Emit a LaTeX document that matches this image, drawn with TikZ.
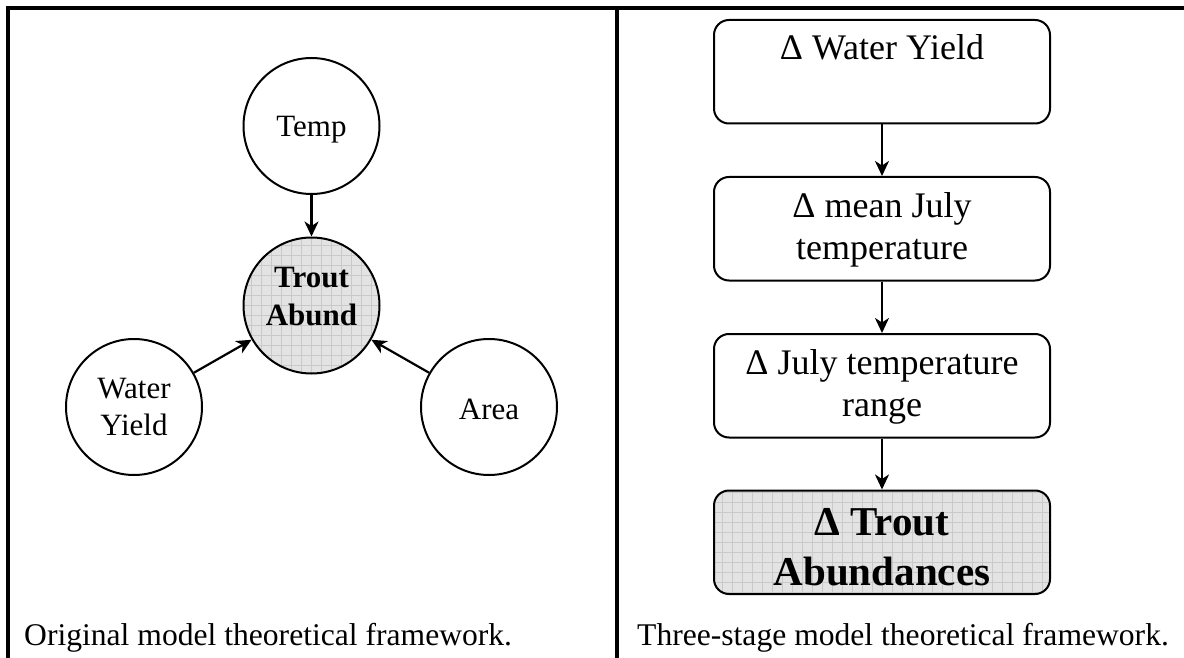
\documentclass[tikz,border=0pt]{standalone}
\usepackage{fontspec}
\setmainfont{Liberation Serif}
\usetikzlibrary{arrows.meta}
\begin{document}
\begin{tikzpicture}[x=1pt,y=1pt,
 framel/.style={line width=3.2pt},
 circnode/.style={circle,draw,line width=2pt,minimum size=136pt,inner sep=0pt},
 shaded/.style={fill=black!11,path picture={\draw[black!21,line width=0.7pt] (path picture bounding box.south west) grid[step=10pt] (path picture bounding box.north east);}},
 boxnode/.style={draw,rectangle,rounded corners=15pt,line width=2pt,minimum width=336pt,minimum height=103.5pt,inner sep=0pt},
 arr/.style={line width=2.2pt,-{Stealth[length=15pt,width=14pt,inset=4.5pt]}},
 ctext/.style={anchor=base,inner sep=0pt,font=\fontsize{31}{37}\selectfont},
 ctextb/.style={anchor=base,inner sep=0pt,font=\fontsize{31}{37}\selectfont\bfseries},
 btext/.style={anchor=base,inner sep=0pt,font=\fontsize{36}{42}\selectfont},
 btextb/.style={anchor=base,inner sep=0pt,font=\fontsize{41}{49}\selectfont\bfseries},
 captext/.style={anchor=base west,inner sep=0pt,font=\fontsize{31.6}{38}\selectfont}]
\useasboundingbox (0,0) rectangle (1184,-658);
% frame
\coordinate (fbl) at (8,-658);
\coordinate (ftl) at (8,-8);
\coordinate (ftr) at (1184,-8);
\coordinate (mtop) at (617,-8);
\coordinate (mbot) at (617,-658);
\draw[framel] (fbl) -- (ftl) -- (ftr);
\draw[framel] (mtop) -- (mbot);
% left panel
\node[circnode] (temp) at (311.5,-126) {};
\node[circnode,shaded] (trout) at (311.5,-305.5) {};
\node[circnode] (wy) at (134,-407) {};
\node[circnode] (area) at (489,-407) {};
\node[ctext] (ttemp) at (311.5,-137) {Temp};
\node[ctextb] (ttrout1) at (311.5,-287) {Trout};
\node[ctextb] (ttrout2) at (311.5,-325) {Abund};
\node[ctext] (twy1) at (134,-398) {Water};
\node[ctext] (twy2) at (134,-435) {Yield};
\node[ctext] (tarea) at (489,-419) {Area};
\draw[arr] (temp) -- (trout);
\draw[arr] (wy) -- (trout);
\draw[arr] (area) -- (trout);
% right panel
\node[boxnode] (b1) at (882,-71.75) {};
\node[boxnode] (b2) at (882,-228.75) {};
\node[boxnode] (b3) at (882,-385.75) {};
\node[boxnode,shaded] (b4) at (882,-542.25) {};
\node[btext] (tb1) at (882,-60) {Δ Water Yield};
\node[btext] (tb2a) at (882,-217) {Δ mean July};
\node[btext] (tb2b) at (882,-259) {temperature};
\node[btext] (tb3a) at (882,-374) {Δ July temperature};
\node[btext] (tb3b) at (882,-416) {range};
\node[btextb] (tb4a) at (882,-535) {Δ Trout};
\node[btextb] (tb4b) at (882,-585) {Abundances};
\draw[arr] (b1.south) -- (b2.north);
\draw[arr] (b2.south) -- (b3.north);
\draw[arr] (b3.south) -- (b4.north);
% captions
\node[captext] (capl) at (24,-645) {Original model theoretical framework.};
\node[captext] (capr) at (637,-645) {Three-stage model theoretical framework.};
\end{tikzpicture}
\end{document}
